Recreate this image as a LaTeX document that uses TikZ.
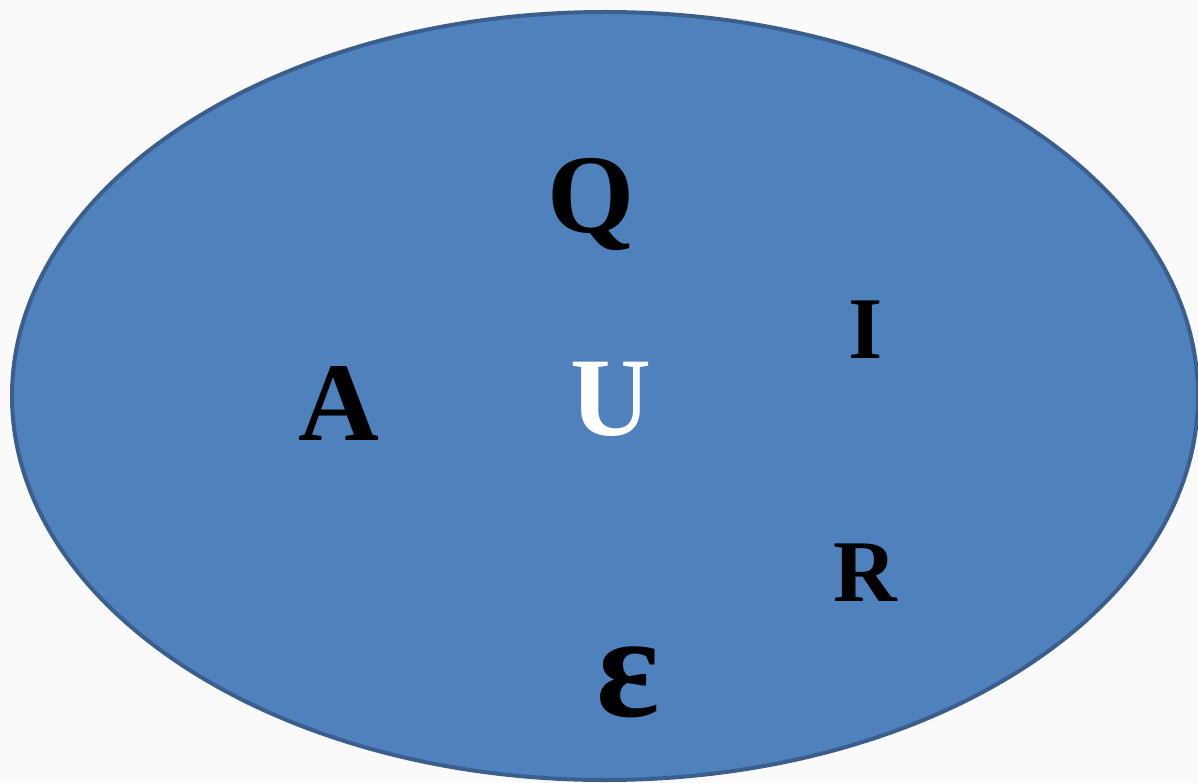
\documentclass[tikz,border=0pt]{standalone}
\usepackage{fontspec}
\setmainfont{Liberation Serif}
\usepackage{tikz}
\usetikzlibrary{positioning}

\definecolor{setfill}{HTML}{4F81BD}
\definecolor{setedge}{HTML}{3A5F8C}
\definecolor{paper}{HTML}{FAFAFA}

\begin{document}
\begin{tikzpicture}[
    x=1pt, y=-1pt,
    letter/.style={anchor=base, inner sep=0pt, font=\bfseries\fontsize{112}{120}\selectfont},
    small/.style={letter, font=\bfseries\fontsize{88}{96}\selectfont}
]
% canvas
\fill[paper] (0,0) rectangle (1198,783);
\useasboundingbox (0,0) rectangle (1198,783);
% universe
\draw[setedge, line width=4pt, fill=setfill] (605,396) ellipse [x radius=593, y radius=384];
\node[letter] (q) at (591,233) {Q};
\node[letter] (a) at (339,440) {A};
\node[letter, text=white] (u) at (611,435) {U};
\node[small] (i) at (866,358) {I};
\node[small] (r) at (865,601) {R};
\node[letter, font=\bfseries\fontsize{148}{150}\selectfont] (eps) at (628,716) {ε};
\end{tikzpicture}
\end{document}
